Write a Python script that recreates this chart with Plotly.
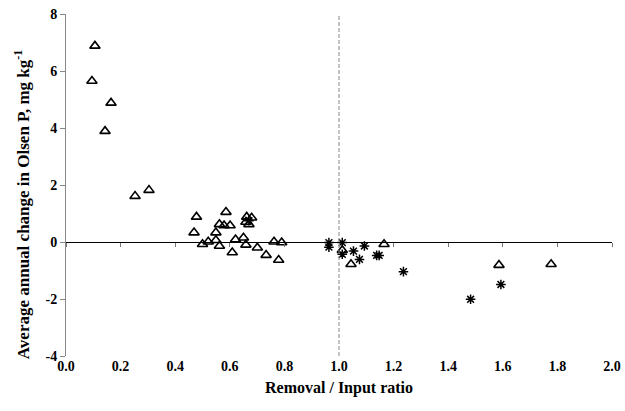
import plotly.graph_objects as go

# Open triangles
tri_x = [0.106, 0.095, 0.165, 0.143, 0.253, 0.304,
         0.478, 0.469, 0.586, 0.562, 0.579, 0.601, 0.662, 0.680, 0.659, 0.670,
         0.549, 0.500, 0.521, 0.549, 0.562, 0.609, 0.621, 0.650, 0.659, 0.701,
         0.733, 0.762, 0.790, 0.779,
         1.012, 1.044, 1.165, 1.586, 1.777]
tri_y = [6.88, 5.65, 4.88, 3.89, 1.61, 1.82,
         0.88, 0.33, 1.05, 0.62, 0.58, 0.58, 0.88, 0.85, 0.70, 0.62,
         0.33, -0.08, 0.01, 0.06, -0.14, -0.37, 0.09, 0.15, -0.10, -0.20,
         -0.46, 0.01, -0.02, -0.63,
         -0.29, -0.78, -0.08, -0.81, -0.78]

# Stars
star_x = [0.670, 0.963, 0.963, 1.012, 1.012, 1.053, 1.075, 1.093, 1.138, 1.147, 1.236, 1.593, 1.482]
star_y = [0.75, -0.02, -0.18, -0.02, -0.43, -0.32, -0.61, -0.14, -0.47, -0.47, -1.04, -1.49, -2.01]

x_ticks = [0.0, 0.2, 0.4, 0.6, 0.8, 1.0, 1.2, 1.4, 1.6, 1.8, 2.0]
x_labels = ["0.0", "0.2", "0.4", "0.6", "0.8", "1.0", "1.2", "1.4", "1.6", "1.8", "2.0"]
y_ticks = [-4, -2, 0, 2, 4, 6, 8]
y_labels = ["-4", "-2", "0", "2", "4", "6", "8"]

x_range = [0.0, 2.0]
y_range = [-4, 8]
ref_ratio = 1.0

FONT = "Liberation Serif"

fig = go.Figure()
fig.add_trace(go.Scatter(
    x=tri_x, y=tri_y, mode="markers", xaxis="x", yaxis="y",
    marker=dict(symbol="triangle-up-open", size=9, color="black", line=dict(width=1.6)),
    showlegend=False, hoverinfo="skip"))
fig.add_trace(go.Scatter(
    x=star_x, y=star_y, mode="markers", xaxis="x2", yaxis="y",
    marker=dict(symbol="asterisk-open", size=8, color="black", line=dict(width=1.5, color="black")),
    showlegend=False, hoverinfo="skip"))

zero_pos = (0 - y_range[0]) / (y_range[1] - y_range[0])

fig.update_layout(
    width=625, height=411,
    margin=dict(l=66, r=13, t=14, b=55, autoexpand=False),
    paper_bgcolor="white", plot_bgcolor="white",
    font=dict(family=FONT, color="black"),
    xaxis=dict(
        range=x_range, tickvals=x_ticks, ticktext=["<b>%s</b>" % t for t in x_labels],
        showline=False, ticks="", showgrid=False, zeroline=False, automargin=False,
        ticklabeloverflow="allow",
        tickfont=dict(family=FONT, size=14, color="black"),
        title=dict(text="<b>Removal / Input ratio</b>", font=dict(family=FONT, size=16, color="black"), standoff=8),
    ),
    xaxis2=dict(
        range=x_range, overlaying="x", anchor="free", position=zero_pos,
        tickvals=x_ticks, showticklabels=False, showline=True, linecolor="black", linewidth=1,
        ticks="outside", ticklen=4, tickcolor="#777", showgrid=False, zeroline=False, automargin=False,
    ),
    yaxis=dict(
        range=y_range, tickvals=y_ticks, ticktext=["<b>%s</b>" % t for t in y_labels],
        showline=True, linecolor="#888", linewidth=1,
        ticks="outside", ticklen=5, tickcolor="#888", showgrid=False, zeroline=False, automargin=False,
        ticklabeloverflow="allow",
        tickfont=dict(family=FONT, size=14, color="black"),
    ),
    annotations=[dict(
        text="<b>Average annual change in Olsen P, mg kg<sup>-1</sup></b>",
        xref="paper", yref="paper", x=-0.0806, y=0.444, textangle=-90,
        showarrow=False, xanchor="center", yanchor="middle",
        font=dict(family=FONT, size=17, color="black"))],
    shapes=[dict(type="line", xref="x", yref="y", x0=ref_ratio, x1=ref_ratio,
                 y0=y_range[0], y1=y_range[1], line=dict(color="#888", width=1, dash="4px,2px"))],
)

fig.write_html("out.html", config={"displayModeBar": False},
               post_script="document.body.style.margin='0';")
